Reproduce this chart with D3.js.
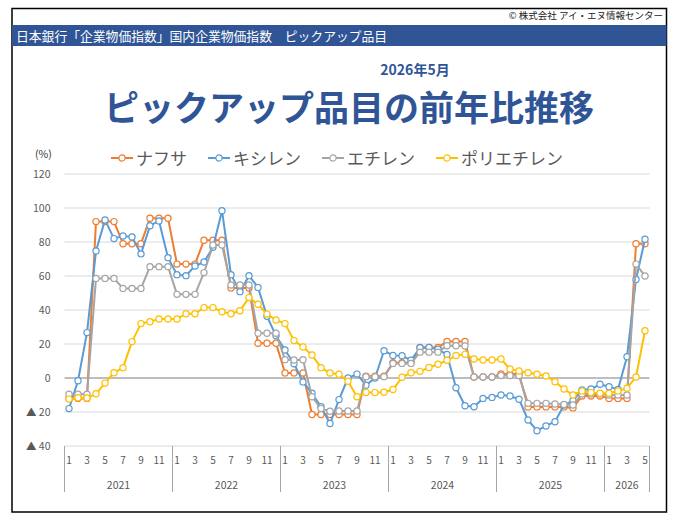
<!DOCTYPE html>
<html>
<head>
<meta charset="utf-8">
<script src="https://cdn.jsdelivr.net/npm/d3@7"></script>
<style>
  body { margin: 0; background: #fff; }
  text { font-family: 'Noto Sans CJK JP', 'Noto Sans', sans-serif; }
</style>
</head>
<body>
<script>
const years = ['2021', '2022', '2023', '2024', '2025', '2026'];
const monthsInYear = [12, 12, 12, 12, 12, 5];
const monthTicks = [1, 3, 5, 7, 9, 11];
const yTicks = [-40, -20, 0, 20, 40, 60, 80, 100, 120];

const seriesNames = ['ナフサ', 'キシレン', 'エチレン', 'ポリエチレン'];

const naphtha = [
    -12, -12, -12, 92, 92, 92, 79, 79, 79, 94, 94, 94,
    67, 67, 67, 81, 81, 81, 53, 53, 53, 20.4, 20.4, 20.4,
    3, 3, 3, -21.5, -21.5, -21.5, -21.5, -21.5, -21.5, 1, 1, 1,
    9, 9, 9, 18, 18, 18, 21.5, 21.5, 21.5, 0.6, 0.6, 0.6,
    2.4, 2.4, 2.4, -17, -17, -17, -17, -17, -17.6, -10.6, -10.6, -10.6,
    -12, -12, -12, 79, 79
];
const xylene = [
    -18, -1.6, 26.7, 74.7, 93, 82, 83.5, 83, 73, 89.6, 92.4, 70.8,
    60.8, 60.2, 65.9, 68.2, 76.9, 98.4, 60.8, 50.8, 60.2, 53.3, 36.3, 24.8,
    16.5, 8.4, -2.3, -9, -16.9, -26.8, -12.7, 0, 2.3, -4.2, 0, 16,
    13.3, 13.1, 10.4, 17.8, 18, 16.9, 13.8, -5.7, -16.3, -16.9, -12, -11.4,
    -10, -10.6, -12.5, -24.7, -31, -28.2, -25.7, -15.9, -13.3, -7, -6.5, -3.7,
    -5.1, -6.7, 12.5, 58, 81.6
];
const ethylene = [
    -9.6, -9.6, -9.6, 58.6, 58.6, 58.6, 52.7, 52.7, 52.7, 65.5, 65.5, 65.5,
    49.2, 49.2, 49.2, 62, 78.2, 78.2, 54.7, 54.7, 54.7, 26.3, 26.3, 26.3,
    10.8, 10.6, 10.8, -11, -18, -19.6, -19.4, -19.4, -19.4, 0.8, 0.8, 0.8,
    8.6, 8.6, 8.6, 15.2, 15.2, 15.2, 19, 19, 18.8, 0.6, 0.6, 0.6,
    1.4, 1.4, 1.4, -14.9, -14.9, -14.9, -15.3, -15.6, -15.9, -9.4, -9.4, -9.4,
    -10, -10, -10, 67, 60
];
const polyethylene = [
    -12.4, -11.6, -11.8, -9.3, -3, 3.1, 6.1, 21.4, 32, 33.1, 34.7, 34.7,
    34.7, 37.8, 37.8, 41.4, 41.4, 39, 37.8, 39.6, 47.3, 43.4, 37.6, 34.1,
    32, 22, 18.2, 13.5, 6.1, 2.9, 2.2, -1.9, -11, -8.6, -8.6, -8.4,
    -6.8, 0.4, 3.1, 3.9, 6.2, 8.1, 10.4, 13.2, 13.9, 11.2, 10.6, 10.6,
    11.2, 5.3, 4.1, 3.1, 2.2, 1.2, -2.2, -6.5, -10, -7.6, -8.6, -9,
    -9, -7.6, -6, 0.6, 27.8
];

const colors = ['#ED7D31', '#5B9BD5', '#A5A5A5', '#FFC000'];
const navy = '#2F5597';
const textGray = '#595959';

const categories = [];
years.forEach((yr, yi) => {
    for (let m = 1; m <= monthsInYear[yi]; m++) categories.push({ year: yr, month: m });
});

const series = [naphtha, xylene, ethylene, polyethylene].map((vals, i) => ({
    name: seriesNames[i],
    color: colors[i],
    values: vals
}));

const width = 676, height = 522;
const margin = { top: 174, right: 26.5, bottom: 76, left: 64.5 };

const x = d3.scaleBand()
    .domain(d3.range(categories.length))
    .range([margin.left, width - margin.right]);
const cx = i => x(i) + x.bandwidth() / 2;

const y = d3.scaleLinear()
    .domain([-40, 120])
    .range([height - margin.bottom, margin.top]);

const svg = d3.create('svg')
    .attr('width', width)
    .attr('height', height);

// frame + header
svg.append('rect')
    .attr('x', 12).attr('y', 8.5)
    .attr('width', 654.5).attr('height', 503.5)
    .attr('fill', 'none')
    .attr('stroke', '#000')
    .attr('stroke-width', 1.5);

svg.append('text')
    .attr('x', 663).attr('y', 19)
    .attr('text-anchor', 'end')
    .attr('font-size', 9.5)
    .attr('fill', '#222')
    .text('© 株式会社 アイ・エヌ情報センター');

svg.append('rect')
    .attr('x', 12).attr('y', 25)
    .attr('width', 654.5).attr('height', 21)
    .attr('fill', navy);

svg.append('text')
    .attr('x', 16).attr('y', 40.5)
    .attr('font-size', 12.8)
    .attr('fill', '#fff')
    .text('日本銀行「企業物価指数」国内企業物価指数　ピックアップ品目');

svg.append('text')
    .attr('x', 415).attr('y', 75)
    .attr('text-anchor', 'middle')
    .attr('font-size', 14)
    .attr('font-weight', 'bold')
    .attr('fill', navy)
    .text('2026年5月');

svg.append('text')
    .attr('x', 349).attr('y', 120.5)
    .attr('text-anchor', 'middle')
    .attr('font-size', 35)
    .attr('font-weight', 'bold')
    .attr('fill', navy)
    .text('ピックアップ品目の前年比推移');

// gridlines
svg.append('g')
    .selectAll('line')
    .data(yTicks)
    .join('line')
    .attr('x1', margin.left)
    .attr('x2', width - margin.right)
    .attr('y1', d => y(d))
    .attr('y2', d => y(d))
    .attr('stroke', d => d === 0 ? '#7F7F7F' : '#D9D9D9')
    .attr('stroke-width', 1.2);

// y axis labels
const yAxis = svg.append('g')
    .attr('transform', `translate(${margin.left - 11},0)`)
    .call(d3.axisLeft(y)
        .tickValues(yTicks)
        .tickSize(0)
        .tickFormat(d => d < 0 ? `▲ ${-d}` : d));
yAxis.select('.domain').remove();
yAxis.selectAll('text')
    .attr('font-size', 10.5)
    .attr('fill', textGray)
    .attr('font-family', "'Noto Sans CJK JP', sans-serif");

svg.append('text')
    .attr('x', 35).attr('y', 158)
    .attr('font-size', 10.5)
    .attr('fill', '#333')
    .text('(%)');

// x axis: months
const xAxis = svg.append('g')
    .attr('transform', `translate(0,${height - margin.bottom})`)
    .call(d3.axisBottom(x)
        .tickValues(d3.range(categories.length).filter(i => monthTicks.includes(categories[i].month)))
        .tickSize(0)
        .tickPadding(11)
        .tickFormat(i => categories[i].month));
xAxis.select('.domain').remove();
xAxis.selectAll('text')
    .attr('font-size', 10)
    .attr('fill', textGray)
    .attr('font-family', "'Noto Sans CJK JP', sans-serif");

// year groups and separators
let start = 0;
const yearSpans = years.map((yr, yi) => {
    const s = { year: yr, from: start, to: start + monthsInYear[yi] - 1 };
    start += monthsInYear[yi];
    return s;
});

const bounds = yearSpans.map(s => x(s.from)).concat([x(categories.length - 1) + x.bandwidth()]);
svg.append('g')
    .selectAll('line')
    .data(bounds)
    .join('line')
    .attr('x1', d => d).attr('x2', d => d)
    .attr('y1', y(-40)).attr('y2', y(-40) + 46)
    .attr('stroke', '#A6A6A6')
    .attr('stroke-width', 1);

svg.append('g')
    .selectAll('text')
    .data(yearSpans)
    .join('text')
    .attr('x', d => (x(d.from) + x(d.to) + x.bandwidth()) / 2)
    .attr('y', y(-40) + 43)
    .attr('text-anchor', 'middle')
    .attr('font-size', 10.5)
    .attr('fill', textGray)
    .text(d => d.year);

// series
const line = d3.line()
    .x((d, i) => cx(i))
    .y(d => y(d));

const sg = svg.append('g')
    .selectAll('g')
    .data(series)
    .join('g');

sg.append('path')
    .attr('d', d => line(d.values))
    .attr('fill', 'none')
    .attr('stroke', d => d.color)
    .attr('stroke-width', 2)
    .attr('stroke-linejoin', 'round');

sg.each(function(s) {
    d3.select(this).selectAll('circle')
        .data(s.values)
        .join('circle')
        .attr('cx', (d, i) => cx(i))
        .attr('cy', d => y(d))
        .attr('r', 3.1)
        .attr('fill', '#fff')
        .attr('stroke', s.color)
        .attr('stroke-width', 1.2);
});

// legend
const legend = svg.append('g').attr('transform', 'translate(111,158)');
series.forEach(s => {
    const item = legend.append('g');
    item.append('line')
        .attr('x1', 0).attr('x2', 22)
        .attr('stroke', s.color)
        .attr('stroke-width', 2);
    item.append('circle')
        .attr('cx', 11).attr('r', 3.1)
        .attr('fill', '#fff')
        .attr('stroke', s.color)
        .attr('stroke-width', 1.2);
    item.append('text')
        .attr('x', 25).attr('y', 6.5)
        .attr('font-size', 17)
        .attr('fill', textGray)
        .text(s.name);
});

document.querySelector('body').appendChild(svg.node());

// legend widths need layout, so measure after attach
let lx = 0;
legend.selectAll(':scope > g').each(function() {
    const g = d3.select(this);
    g.attr('transform', `translate(${lx},0)`);
    lx += 25 + g.select('text').node().getComputedTextLength() + 21;
});
</script>
</body>
</html>
